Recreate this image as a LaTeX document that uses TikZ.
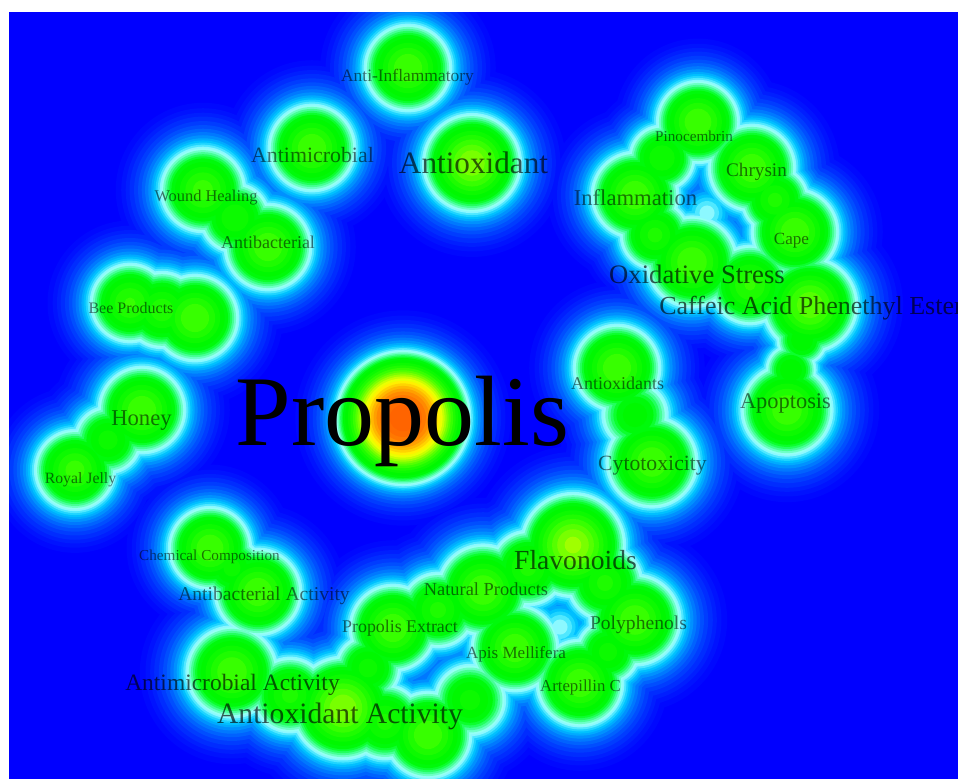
\documentclass[tikz,border=0pt]{standalone}
\usepackage{fontspec}
\setmainfont{Liberation Serif}
\definecolor{bg}{RGB}{0,0,255}
\tikzset{
  lbl/.style={font=\fontsize{#1}{#1}\selectfont, text=black, text opacity=0.55, anchor=base, inner sep=0pt}
}
\def\levels{0.09/0/8/255, 0.12/0/18/255, 0.15/0/30/255, 0.18/0/44/255, 0.22/0/60/255, 0.26/0/78/255, 0.30/0/98/255,
0.34/0/120/255, 0.38/0/144/255, 0.42/0/170/255, 0.45/0/192/255, 0.48/30/212/255,
0.51/80/232/255, 0.54/140/248/255, 0.565/150/255/245, 0.59/110/255/200, 0.62/70/255/150,
0.65/35/255/95, 0.68/12/255/45, 0.71/0/250/10, 0.76/0/248/0, 0.82/12/250/0, 0.88/30/252/0,
0.94/55/255/0, 1.00/85/255/0, 1.05/120/255/0, 1.10/160/255/0, 1.15/200/255/0, 1.20/235/255/0,
1.26/255/240/0, 1.32/255/212/0, 1.38/255/185/0, 1.44/255/160/0, 1.50/255/138/0, 1.57/255/120/0, 1.64/255/108/0, 1.72/255/100/0}
\def\blobs{408/68/1/40, 472/163/1.1/42, 312/148/1/40, 203/190/0.97/40, 268/247/1/40, 235/218/0.88/36,
130/303/0.95/38, 195/318/1/40, 162/310/0.92/38, 142/410/1/40, 75/470/0.97/38, 108/440/0.85/36,
403/418/1.8/44,
635/195/1/40, 698/122/1/38, 752/168/1/40, 795/232/1/40, 692/262/1/42, 810/305/1.05/42,
655/235/0.9/35, 662/158/0.88/34, 775/200/0.9/34, 750/285/0.95/38, 707/213/0.56/28,
787/410/1/42, 791/370/0.82/28, 802/340/0.82/28,
617/368/1/40, 652/462/1/42, 635/415/0.8/38,
210/548/1/38, 258/592/1/40, 232/672/1/42, 343/708/1.1/44, 428/735/1/40, 393/628/1/40,
483/590/1/42, 573/545/1.12/44, 635/620/1/42, 515/648/1/40, 580/683/1/40,
290/695/0.9/38, 385/722/0.9/38, 368/668/0.85/35, 438/610/0.9/38, 528/568/0.9/38,
605/583/0.9/38, 608/652/0.85/34, 470/700/0.85/38, 560/627/0.56/28, 232/568/0.85/32}
\begin{document}
\begin{tikzpicture}[x=0.75pt,y=-0.75pt]
\useasboundingbox (0,0) rectangle (958,779);
\fill[white] (0,0) rectangle (958,779);
\begin{scope}
\clip (9,12) rectangle (958,779);
\fill[bg] (9,12) rectangle (958,779);
\foreach \t/\R/\G/\B in \levels {
  \definecolor{cur}{RGB}{\R,\G,\B}
  \foreach \x/\y/\p/\s in \blobs {
    \pgfmathparse{\p>\t}
    \ifdim\pgfmathresult pt>0.5pt
      \pgfmathsetmacro\r{0.75*\s*sqrt(2*ln(\p/\t))}
      \fill[fill=cur] (\x,\y) circle[radius=\r pt];
    \fi
  }
}
% labels
\node[lbl=13.1] (l1) at (407.5,81) {Anti-Inflammatory};
\node[lbl=23.4, text opacity=0.65] (l2) at (473.5,173) {Antioxidant};
\node[lbl=16.4] (l3) at (312.5,162) {Antimicrobial};
\node[lbl=12.3] (l4) at (206,201) {Wound Healing};
\node[lbl=13.5] (l5) at (268,248) {Antibacterial};
\node[lbl=12] (l6) at (131,313) {Bee Products};
\node[lbl=17] (l7) at (141.5,425) {Honey};
\node[lbl=11.8] (l8) at (80.5,483) {Royal Jelly};
\node[lbl=75, text opacity=1] (l9) at (402.5,445) {Propolis};
\node[lbl=17] (l10) at (635.5,205) {Inflammation};
\node[lbl=11.4] (l11) at (694,141) {Pinocembrin};
\node[lbl=14.4] (l12) at (756.5,176) {Chrysin};
\node[lbl=12.8] (l13) at (791.5,244) {Cape};
\node[lbl=20, text opacity=0.65] (l14) at (697,283) {Oxidative Stress};
\node[lbl=19.5, text opacity=0.65, anchor=base west] (l15) at (659,314) {Caffeic Acid Phenethyl Ester};
\node[lbl=13.5] (l16) at (617.5,389) {Antioxidants};
\node[lbl=16.8] (l17) at (785.5,408) {Apoptosis};
\node[lbl=16.3] (l18) at (652.5,470) {Cytotoxicity};
\node[lbl=11.4] (l19) at (209.5,560) {Chemical Composition};
\node[lbl=14.7] (l20) at (264,600) {Antibacterial Activity};
\node[lbl=13.4] (l21) at (400,632) {Propolis Extract};
\node[lbl=17.6, text opacity=0.65] (l22) at (232.5,690) {Antimicrobial Activity};
\node[lbl=22.2, text opacity=0.65] (l23) at (340,723) {Antioxidant Activity};
\node[lbl=13.8] (l24) at (486,595) {Natural Products};
\node[lbl=20.7, text opacity=0.65] (l25) at (575.5,569) {Flavonoids};
\node[lbl=14.7] (l26) at (638.5,629) {Polyphenols};
\node[lbl=12.8] (l27) at (516,658) {Apis Mellifera};
\node[lbl=12.6] (l28) at (580.5,691) {Artepillin C};
\end{scope}
\end{tikzpicture}
\end{document}
